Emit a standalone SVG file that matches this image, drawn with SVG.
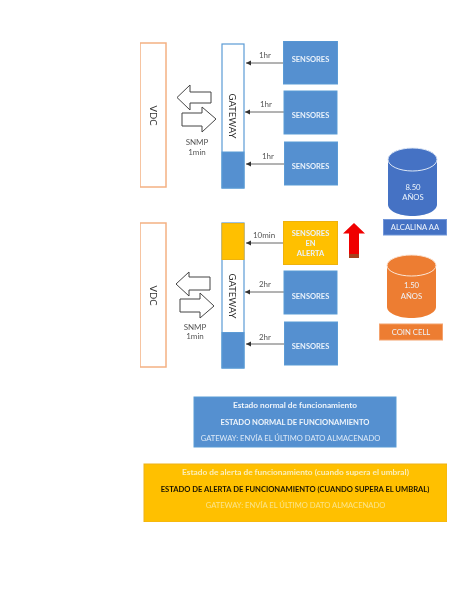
<svg xmlns="http://www.w3.org/2000/svg" width="474" height="613" viewBox="0 0 474 613">
<style>
text{font-family:Lato,"Liberation Sans",sans-serif;text-anchor:middle}
.vdc{fill:#fff;stroke:#f4b183;stroke-width:1.5}
.gw{fill:#fff;stroke:#5b9bd5;stroke-width:1.2}
.blue{fill:#5590d0;stroke:#5b9bd5}
.amber{fill:#ffc000;stroke:#eeb210}
.st{fill:#eaf2fb;font-size:7.500px;font-weight:700}
.lab{fill:#555;font-size:8px}
.big{fill:#333;font-size:9.500px}
.conn{stroke:#666;stroke-width:1;fill:none;marker-end:url(#a)}
.block{fill:#fff;stroke:#444;stroke-width:1}
.w{fill:#eef4fb;font-size:7.700px}
</style>
<defs>
<marker id="a" markerWidth="6" markerHeight="6" refX="5" refY="3" orient="auto"><path d="M0 0.5L5 3L0 5.500z" fill="#333"/></marker>
<filter id="s" x="0" y="0" width="100%" height="100%"><feGaussianBlur stdDeviation="0.45"/></filter>
</defs>
<rect width="474" height="613" fill="#fff"/>
<g filter="url(#s)">
<g id="connectors">
<path class="conn" d="M284 63H246"/>
<path class="conn" d="M284 112H245"/>
<path class="conn" d="M284 164H246"/>
<path class="conn" d="M284 243H246"/>
<path class="conn" d="M284 292H245"/>
<path class="conn" d="M284 344H246"/>
<path id="top-left-arrow" class="block" d="M177 97.500L190 85V92H211V103H190V110z"/>
<path id="top-right-arrow" class="block" d="M216 119L202 107V113H182V126H202V132z"/>
<path id="bottom-left-arrow" class="block" d="M176 284L189 272V277H210V290H189V296z"/>
<path id="bottom-right-arrow" class="block" d="M214 306L200 293V299H180V312H200V318z"/>
<text class="lab" x="265" y="58">1hr</text>
<text class="lab" x="266" y="107">1hr</text>
<text class="lab" x="268" y="159">1hr</text>
<text class="lab" x="264" y="238">10min</text>
<text class="lab" x="265" y="287">2hr</text>
<text class="lab" x="265" y="340">2hr</text>
<text class="lab" x="197" y="145">SNMP</text>
<text class="lab" x="197" y="154.500">1min</text>
<text class="lab" x="195" y="329.500">SNMP</text>
<text class="lab" x="195" y="339">1min</text>
</g>
<g id="vdc-top"><rect class="vdc" x="140" y="43" width="26" height="144"/><text class="big" transform="translate(149.500 115.500) rotate(90)">VDC</text></g>
<g id="gateway-top"><rect class="gw" x="222" y="44" width="22" height="144"/><rect class="blue" x="222" y="152" width="22" height="36"/><text class="big" transform="translate(228.500 116) rotate(90)">GATEWAY</text></g>
<g id="sensor-top-1"><rect class="blue" x="283.500" y="41" width="54" height="43"/><text class="st" x="310.500" y="62">SENSORES</text></g>
<g id="sensor-top-2"><rect class="blue" x="284" y="91" width="53" height="43"/><text class="st" x="310.500" y="118">SENSORES</text></g>
<g id="sensor-top-3"><rect class="blue" x="284.500" y="142" width="53" height="43"/><text class="st" x="310.500" y="169">SENSORES</text></g>
<g id="vdc-bottom"><rect class="vdc" x="140" y="223" width="26" height="144"/><text class="big" transform="translate(149.500 295.500) rotate(90)">VDC</text></g>
<g id="gateway-bottom"><rect class="gw" x="222" y="223" width="22" height="145"/><rect class="amber" x="222" y="223.500" width="22" height="36"/><rect class="blue" x="222" y="332.500" width="22" height="35.500"/><text class="big" transform="translate(228.500 296) rotate(90)">GATEWAY</text></g>
<g id="sensor-alert"><rect class="amber" x="283.500" y="221.500" width="54" height="43"/><text class="st" x="310.500" y="235.500">SENSORES</text><text class="st" x="310.500" y="245.500">EN</text><text class="st" x="310.500" y="255.500">ALERTA</text></g>
<g id="sensor-bottom-2"><rect class="blue" x="284" y="271" width="53" height="43"/><text class="st" x="310.500" y="298.500">SENSORES</text></g>
<g id="sensor-bottom-3"><rect class="blue" x="284.500" y="322" width="53" height="43"/><text class="st" x="310.500" y="349">SENSORES</text></g>
<g id="alert-up-arrow"><path d="M354 223L365 233.500H359V258H349V233.500H343z" fill="#f00000"/><rect x="349" y="254" width="10" height="4" fill="#a5401a"/></g>
<g id="battery-alcalina">
<path d="M388 159.500C388 153 399 148 412.500 148S437 153 437 159.500V204.500C437 211 426 216 412.500 216S388 211 388 204.500z" fill="#4472c4"/>
<ellipse cx="412.500" cy="159.500" rx="24.500" ry="11.500" fill="#4472c4" stroke="#dfe8f6" stroke-width="1"/>
<text class="w" x="413" y="190">8.50</text><text class="w" x="413" y="200">AÑOS</text></g>
<g id="label-alcalina"><rect x="383.500" y="219.500" width="63" height="15.500" fill="#4472c4" stroke="#6f95d8"/><text class="w" x="415" y="230">ALCALINA AA</text></g>
<g id="battery-coin">
<path d="M387 266C387 260 398 255 411.500 255S436 260 436 266V307C436 313 425 318 411.500 318S387 313 387 307z" fill="#ed7d31"/>
<ellipse cx="411.500" cy="265.500" rx="24.500" ry="10.500" fill="#ed7d31" stroke="#fbe5d6" stroke-width="1"/>
<text class="w" x="411.500" y="288">1.50</text><text class="w" x="411.500" y="299">AÑOS</text></g>
<g id="label-coin"><rect x="379.500" y="324" width="63" height="16" fill="#ed7d31" stroke="#f4a26d"/><text class="w" x="411" y="335">COIN CELL</text></g>
<g id="panel-normal"><rect x="194" y="397" width="202" height="50" fill="#5590d0" stroke="#5b9bd5"/>
<text x="295" y="408" font-size="8.300" font-weight="700" fill="#eef4fb">Estado normal de funcionamiento</text>
<text x="295" y="424.500" font-size="7.600" font-weight="700" fill="#eef4fb">ESTADO NORMAL DE FUNCIONAMIENTO</text>
<text x="290.500" y="441" font-size="7.600" fill="#dce9f7">GATEWAY: ENVÍA EL ÚLTIMO DATO ALMACENADO</text></g>
<g id="panel-alert"><rect x="144" y="464" width="303" height="58" fill="#ffc000" stroke="#eeb210"/>
<text x="295.500" y="475" font-size="8.300" font-weight="700" fill="#fbeeb8">Estado de alerta de funcionamiento (cuando supera el umbral)</text>
<text x="295" y="491.500" font-size="7.600" font-weight="700" fill="#1a1400">ESTADO DE ALERTA DE FUNCIONAMIENTO (CUANDO SUPERA EL UMBRAL)</text>
<text x="295.500" y="508" font-size="7.600" fill="#fbe48c">GATEWAY: ENVÍA EL ÚLTIMO DATO ALMACENADO</text></g>
</g>
</svg>
